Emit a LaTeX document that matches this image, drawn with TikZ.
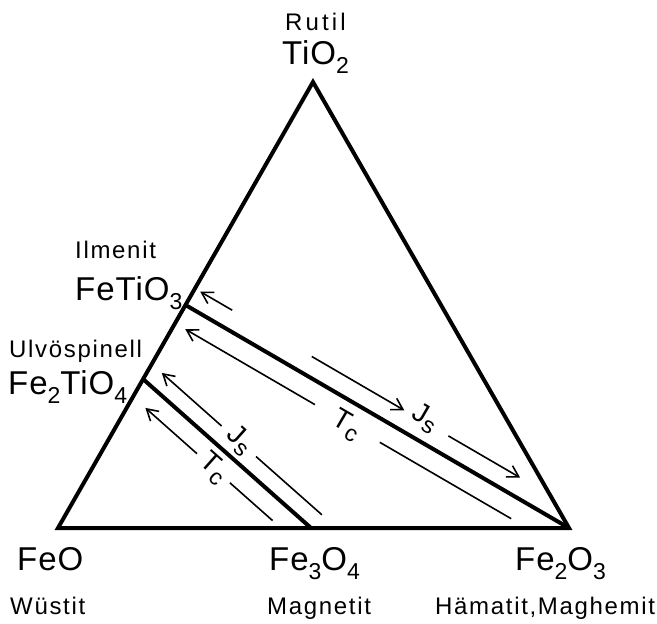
\documentclass[tikz,border=0pt]{standalone}
\usepackage{fontspec}
\setmainfont{Liberation Sans}
\newfontfamily\lblfont[LetterSpace=7]{Liberation Sans}
\newfontfamily\widefont[LetterSpace=13]{Liberation Sans}
\newfontfamily\frmfont[LetterSpace=3]{Liberation Sans}
\usetikzlibrary{arrows.meta}
\newcommand{\subs}[1]{{\fontsize{23}{23}\selectfont\raisebox{-9pt}{#1}}}
\newcommand{\lsub}[1]{{\fontsize{23}{23}\selectfont\raisebox{-6pt}{#1}}}
\begin{document}
\begin{tikzpicture}[x=1pt,y=-1pt,
  thickline/.style={line width=4pt},
  thinline/.style={line width=1.6pt},
  thinarrow/.style={thinline,-{Straight Barb[length=11pt,width=13pt]}},
  lbl/.style={font=\fontsize{24}{24}\selectfont\lblfont,inner sep=0pt,anchor=base west},
  frm/.style={font=\fontsize{33}{33}\selectfont\frmfont,inner sep=0pt,anchor=base west},
  mag/.style={font=\fontsize{28}{28}\selectfont,inner sep=0pt}]
\useasboundingbox (0,0) rectangle (657,624);
% vertices and points on the edges
\coordinate (FeO) at (58,528);
\coordinate (Hem) at (569,528);
\coordinate (Rut) at (313,82);
\coordinate (Mag) at (311,528);
\coordinate (Ilm) at (185.5,305);
\coordinate (Ulv) at (143,379);
% triangle
\draw[thickline] (FeO) -- (Hem) -- (Rut) -- cycle;
% solid-solution lines
\draw[thickline] (Ulv) -- (Mag);
\draw[thickline] (Ilm) -- (Hem);
% thin lines, lower series
\coordinate (a1h) at (161.8,372.9);
\coordinate (a1t) at (221.6,426.0);
\coordinate (a2s) at (256.0,456.5);
\coordinate (a2e) at (321.9,514.8);
\coordinate (b1h) at (145.4,407.9);
\coordinate (b1t) at (197.0,453.7);
\coordinate (b2s) at (229.9,482.8);
\coordinate (b2e) at (272.6,520.6);
\draw[thinarrow] (a1t) -- (a1h);
\draw[thinline] (a2s) -- (a2e);
\draw[thinarrow] (b1t) -- (b1h);
\draw[thinline] (b2s) -- (b2e);
\node[mag,rotate=-41.6] (JsL) at (239.5,440.5) {J\lsub{s}};
\node[mag,rotate=-41.6] (TcL) at (213.5,468.0) {T\lsub{c}};
% thin lines, upper series
\coordinate (c1h) at (200.2,291.6);
\coordinate (c1t) at (232.2,310.2);
\coordinate (d1s) at (311.8,356.5);
\coordinate (d1h) at (404.3,410.3);
\coordinate (d2s) at (448.4,435.9);
\coordinate (d2h) at (520.1,477.6);
\coordinate (e1h) at (185.3,329.2);
\coordinate (e1t) at (314.9,404.6);
\coordinate (e2s) at (379.8,442.3);
\coordinate (e2e) at (511.2,518.7);
\draw[thinarrow] (c1t) -- (c1h);
\draw[thinarrow] (d1s) -- (d1h);
\draw[thinarrow] (d2s) -- (d2h);
\draw[thinarrow] (e1t) -- (e1h);
\draw[thinline] (e2s) -- (e2e);
\node[mag,rotate=-30.2] (JsU) at (425,418) {J\lsub{s}};
\node[mag,rotate=-30.2] (TcU) at (346.5,425.5) {T\lsub{c}};
% labels
\node[lbl,font=\fontsize{24}{24}\selectfont\widefont] (rutil) at (285,30) {Rutil};
\node[frm] (tio2) at (282,64) {TiO\subs{2}};
\node[lbl] (ilmenit) at (75,258) {Ilmenit};
\node[frm] (fetio3) at (75,300) {FeTiO\subs{3}};
\node[lbl] (ulvo) at (9,357) {Ulvöspinell};
\node[frm] (fe2tio4) at (8,394) {Fe\subs{2}TiO\subs{4}};
\node[frm] (feo) at (17,570) {FeO};
\node[frm] (fe3o4) at (269,570) {Fe\subs{3}O\subs{4}};
\node[frm] (fe2o3) at (515,570) {Fe\subs{2}O\subs{3}};
\node[lbl] (wustit) at (10,614) {Wüstit};
\node[lbl] (magnetit) at (267,614) {Magnetit};
\node[lbl] (hamatit) at (435,614) {Hämatit,Maghemit};
\end{tikzpicture}
\end{document}
